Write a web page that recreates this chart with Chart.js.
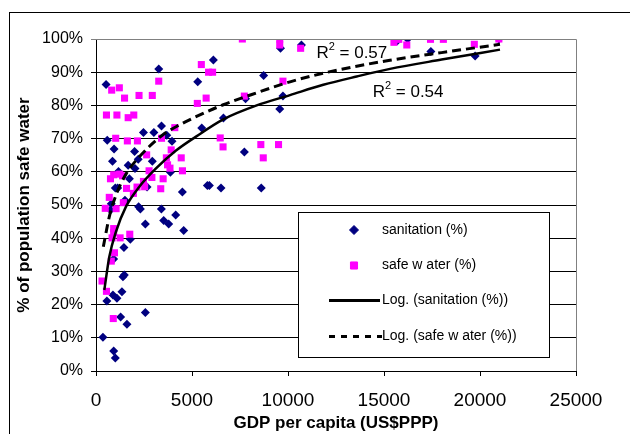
<!DOCTYPE html>
<html>
<head>
<meta charset="utf-8">
<script src="https://cdn.jsdelivr.net/npm/chart.js@4.4.1/dist/chart.umd.min.js"></script>
<style>
html, body { margin: 0; padding: 0; background: #fff; }
</style>
</head>
<body>
<canvas id="gdpChart" width="630" height="434"></canvas>
<script>
// GDP per capita (US$PPP) and % coverage
var sanitationGdp = [524, 586, 942, 859, 1173, 1675, 1738, 1005, 1131, 796, 754, 1508, 2010, 2031, 2199, 2471, 3015, 2932, 3267, 3413,
  3685, 3958, 3874, 2659, 2221, 2310, 2570, 3405, 3525, 3785, 4150, 4567, 4500, 1788, 1455, 918, 1403, 1475, 568, 881,
  1090, 1350, 1283, 1612, 2570, 360, 921, 1005, 5298, 6114, 5507, 6638, 5800, 5905, 6512, 7727, 7790, 8732, 8606, 9570,
  9737, 9611, 10700, 15700, 16229, 17443, 19745, 20982];
var sanitationPct = [86.3, 69.5, 66.9, 63.2, 60.1, 62.0, 57.9, 55.1, 55.1, 50.4, 48.5, 51.4, 66.1, 61.0, 63.8, 71.8, 71.8, 63.2, 91.0, 73.8,
  71.0, 69.2, 59.9, 55.4, 49.5, 48.8, 44.3, 48.8, 45.3, 44.3, 47.0, 42.3, 53.9, 39.7, 37.2, 33.7, 28.4, 28.9, 21.1, 22.9,
  21.9, 23.9, 16.3, 14.1, 17.6, 10.2, 6.0, 3.9, 87.1, 93.7, 73.2, 76.2, 55.9, 55.9, 55.1, 66.0, 82.0, 89.0, 55.1, 78.9,
  82.8, 97.2, 98.2, 99.5, 100, 96.2, 94.9, 100];

var waterGdp = [544, 817, 1215, 1487, 2241, 2932, 3267, 1089, 1675, 1968, 1026, 1633, 2157, 2638, 754, 921, 1235, 1382, 1591, 482,
  691, 1047, 1424, 1947, 2136, 2471, 2534, 2764, 2911, 3413, 3665, 3727, 3853, 3916, 4104, 4439, 4502, 3497, 3371, 921,
  921, 838, 1256, 1759, 963, 796, 314, 544, 900, 5277, 5486, 5737, 5863, 6073, 6470, 6617, 7622, 7727, 8585, 8711,
  9507, 9570, 9570, 9737, 10658, 15517, 15768, 16187, 17422, 18092, 19704, 20982];
var waterPct = [77.1, 84.6, 85.3, 82.2, 83.0, 83.0, 87.3, 77.1, 76.3, 77.1, 70.1, 69.3, 69.3, 65.1, 57.9, 59.1, 59.3, 58.8, 55.0, 49.0,
  52.3, 48.9, 50.7, 53.5, 55.4, 57.1, 55.5, 60.3, 58.3, 70.1, 64.2, 62.1, 61.1, 66.6, 73.3, 64.2, 60.3, 57.9, 54.9, 42.9,
  41.7, 40.1, 40.1, 41.2, 35.6, 33.1, 27.1, 24.0, 15.8, 80.6, 92.3, 82.2, 90.0, 90.0, 70.2, 67.5, 100, 82.8, 68.2, 64.2,
  68.2, 100, 98.2, 87.3, 97.2, 99.0, 99.9, 98.2, 99.9, 99.9, 98.4, 100];

// logarithmic trend lines
var sanTrendGdp = [434, 694, 1042, 1562, 2257, 3125, 4167, 5208, 6630, 8370, 10104, 11840, 13577, 15313, 18003, 21041];
var sanTrendPct = [24.4, 34.4, 42.0, 49.5, 55.5, 61.0, 66.4, 70.6, 75.8, 80.0, 83.1, 86.2, 88.7, 91.0, 93.8, 96.8];
var waterTrendGdp = [382, 694, 1042, 1562, 2257, 3472, 4340, 5208, 6630, 8370, 10104, 11840, 13577, 15313, 18003, 21041];
var waterTrendPct = [37.4, 46.5, 53.0, 59.3, 64.5, 71.1, 74.1, 76.6, 80.2, 83.8, 87.1, 89.7, 91.8, 93.6, 95.9, 98.4];

var legendLabels = ["sanitation (%)", "safe w ater (%)", "Log. (sanitation (%))", "Log. (safe w ater (%))"];
var r2Texts = [" = 0.57", " = 0.54"];
var r2Anchors = [[11480, 95.8], [14410, 83.9]];

var FONT = "'Liberation Sans', Arial, sans-serif";

function toPoints(xs, ys) {
  var pts = [];
  for (var i = 0; i < xs.length; i++) pts.push({x: xs[i], y: ys[i]});
  return pts;
}

var overlay = {
  id: 'overlay',
  beforeDraw: function(chart) {
    var ctx = chart.ctx;
    ctx.save();
    ctx.strokeStyle = '#000';
    ctx.lineWidth = 1;
    ctx.strokeRect(9.5, 12.5, 700, 500);
    ctx.restore();
  },
  afterDraw: function(chart) {
    var ctx = chart.ctx, a = chart.chartArea;
    var xs = chart.scales.x, ys = chart.scales.y;
    ctx.save();
    // grey plot frame, top and right
    ctx.strokeStyle = '#808080';
    ctx.lineWidth = 1;
    ctx.beginPath();
    ctx.moveTo(a.left, a.top + 0.5);
    ctx.lineTo(a.right + 0.5, a.top + 0.5);
    ctx.lineTo(a.right + 0.5, a.bottom);
    ctx.stroke();

    // R² labels
    ctx.fillStyle = '#000';
    ctx.textBaseline = 'middle';
    ctx.textAlign = 'left';
    for (var i = 0; i < r2Texts.length; i++) {
      var px = xs.getPixelForValue(r2Anchors[i][0]);
      var py = ys.getPixelForValue(r2Anchors[i][1]);
      ctx.font = '17px ' + FONT;
      ctx.fillText('R', px, py);
      var w = ctx.measureText('R').width;
      ctx.font = '11px ' + FONT;
      ctx.fillText('2', px + w, py - 6);
      var w2 = ctx.measureText('2').width;
      ctx.font = '17px ' + FONT;
      ctx.fillText(r2Texts[i], px + w + w2, py);
    }

    // legend box
    var bx = a.left + 202, by = a.top + 173, bw = 251, bh = 145;
    ctx.fillStyle = '#fff';
    ctx.fillRect(bx, by, bw, bh);
    ctx.strokeStyle = '#000';
    ctx.lineWidth = 1;
    ctx.strokeRect(bx + 0.5, by + 0.5, bw, bh);

    var rowY = [by + 18, by + 53.5, by + 88.5, by + 124.5];
    var markX = bx + 56, textX = bx + 84;

    ctx.fillStyle = '#000080';
    ctx.strokeStyle = '#000080';
    Chart.helpers.drawPoint(ctx, {pointStyle: 'rectRot', radius: 4.5, borderWidth: 1}, markX, rowY[0]);
    ctx.fillStyle = '#ff00ff';
    ctx.strokeStyle = '#ff00ff';
    Chart.helpers.drawPoint(ctx, {pointStyle: 'rect', radius: 5, borderWidth: 1}, markX, rowY[1]);

    ctx.strokeStyle = '#000';
    ctx.lineWidth = 3;
    ctx.beginPath();
    ctx.moveTo(bx + 31, rowY[2]);
    ctx.lineTo(bx + 82, rowY[2]);
    ctx.stroke();
    ctx.setLineDash([6, 6]);
    ctx.beginPath();
    ctx.moveTo(bx + 31, rowY[3]);
    ctx.lineTo(bx + 84, rowY[3]);
    ctx.stroke();
    ctx.setLineDash([]);

    ctx.fillStyle = '#000';
    ctx.font = '14px ' + FONT;
    for (var j = 0; j < legendLabels.length; j++) {
      ctx.fillText(legendLabels[j], textX, rowY[j]);
    }
    ctx.restore();
  }
};

var ctx = document.getElementById('gdpChart');
new Chart(ctx, {
  type: 'scatter',
  data: {
    datasets: [
      {
        label: legendLabels[2],
        data: toPoints(sanTrendGdp, sanTrendPct),
        showLine: true,
        cubicInterpolationMode: 'monotone',
        borderColor: '#000',
        borderWidth: 2.5,
        pointRadius: 0,
        order: 0
      },
      {
        label: legendLabels[3],
        data: toPoints(waterTrendGdp, waterTrendPct),
        showLine: true,
        cubicInterpolationMode: 'monotone',
        borderColor: '#000',
        borderWidth: 3,
        borderDash: [9, 5],
        pointRadius: 0,
        order: 0
      },
      {
        label: legendLabels[1],
        data: toPoints(waterGdp, waterPct),
        pointStyle: 'rect',
        pointRadius: 5,
        backgroundColor: '#ff00ff',
        borderColor: '#ff00ff',
        borderWidth: 0,
        order: 1
      },
      {
        label: legendLabels[0],
        data: toPoints(sanitationGdp, sanitationPct),
        pointStyle: 'rectRot',
        pointRadius: 4.5,
        backgroundColor: '#000080',
        borderColor: '#000080',
        borderWidth: 0,
        order: 2
      }
    ]
  },
  options: {
    responsive: false,
    animation: false,
    devicePixelRatio: 1,
    layout: { padding: { top: 39, right: 54, left: 0, bottom: 0 } },
    plugins: {
      legend: { display: false },
      tooltip: { enabled: false }
    },
    scales: {
      x: {
        type: 'linear',
        min: 0,
        max: 25000,
        afterFit: function(scale) { scale.height = 63; },
        ticks: {
          stepSize: 5000,
          color: '#000',
          padding: 13,
          maxRotation: 0,
          font: { family: FONT, size: 19 },
          callback: function(v) { return String(v); }
        },
        grid: { drawOnChartArea: false, drawTicks: true, tickLength: 5, color: '#000' },
        border: { color: '#000' },
        title: {
          display: true,
          text: 'GDP per capita (US$PPP)',
          color: '#000',
          padding: { top: 0, bottom: 0 },
          font: { family: FONT, size: 17, weight: 'bold' }
        }
      },
      y: {
        min: 0,
        max: 100,
        afterFit: function(scale) { scale.width = 96; },
        ticks: {
          stepSize: 10,
          color: '#000',
          padding: 8,
          font: { family: FONT, size: 16 },
          callback: function(v) { return v + '%'; }
        },
        grid: {
          color: function(c) { return c.tick && c.tick.value === 100 ? '#808080' : '#000'; },
          tickLength: 5
        },
        border: { color: '#000' },
        title: {
          display: true,
          text: '% of population safe water',
          color: '#000',
          padding: { top: 14, bottom: 0 },
          font: { family: FONT, size: 17, weight: 'bold' }
        }
      }
    }
  },
  plugins: [overlay]
});
</script>
</body>
</html>
